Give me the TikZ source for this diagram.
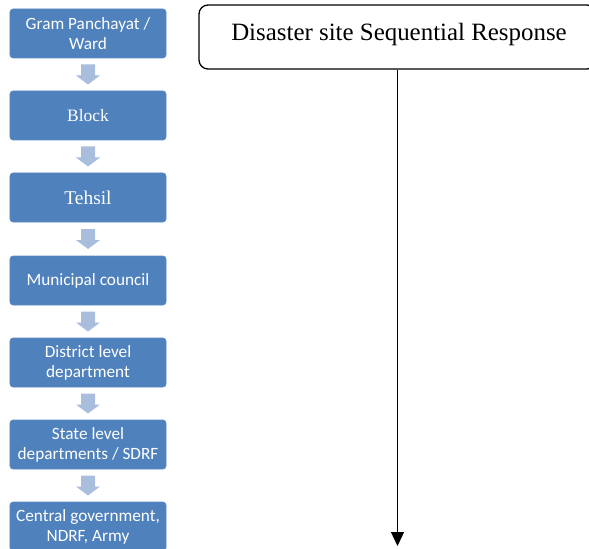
\documentclass[tikz,border=0pt]{standalone}
\usepackage{fontspec}
\setmainfont{Liberation Serif}
\newfontfamily\calibri{Carlito}
\usetikzlibrary{arrows.meta,calc}
\definecolor{boxblue}{HTML}{4F81BD}
\definecolor{boxedge}{HTML}{5B8BC5}
\definecolor{arrowblue}{HTML}{A9BDDC}
\tikzset{
  level/.style={draw=boxedge, line width=0.6bp, fill=boxblue, rounded corners=3bp,
    minimum width=156bp, minimum height=49bp, inner sep=0pt, text=white,
    align=center, font=\calibri\fontsize{17.3}{20}\selectfont},
  serifbox/.style={level, font=\fontsize{17.5}{20}\selectfont},
  serifbig/.style={level, font=\fontsize{19.5}{22}\selectfont},
  headbox/.style={draw=black, line width=1.3bp, rounded corners=9bp,
    minimum width=397bp, minimum height=64bp, inner sep=0pt},
  blockarrow/.style={fill=arrowblue, draw=none},
  mainline/.style={draw=black, line width=1.3bp, -{Triangle[width=13bp,length=14bp]}}
}
\begin{document}
\begin{tikzpicture}[x=1bp,y=-1bp]
\useasboundingbox (0,0) rectangle (589,549);
\clip (0,0) rectangle (589,549);
\node[level] (b1) at (88,33.5) {Gram Panchayat /\\Ward};
\node[serifbox] (b2) at (88,115.5) {Block};
\node[serifbig] (b3) at (88,197.5) {Tehsil};
\node[level] (b4) at (88,280.5) {Municipal council};
\node[level] (b5) at (88,362.5) {District level\\department};
\node[level] (b6) at (88,444.5) {State level\\departments / SDRF};
\node[level] (b7) at (88,526.5) {Central government,\\NDRF, Army};
\foreach \a/\b in {b1/b2,b2/b3,b3/b4,b4/b5,b5/b6,b6/b7}{
  \coordinate (m) at ($(\a.south)!0.5!(\b.north)$);
  \fill[blockarrow] ($(m)+(-7,-10)$) -- ($(m)+(7,-10)$) -- ($(m)+(7,1)$) -- ($(m)+(12,1)$)
    -- ($(m)+(0,10)$) -- ($(m)+(-12,1)$) -- ($(m)+(-7,1)$) -- cycle;
}
\node[headbox] (head) at (397.5,37) {};
\node[font=\fontsize{25}{28}\selectfont, inner sep=0pt] (headtext) at (399,34.5) {Disaster site Sequential Response};
\coordinate (tip) at (397.5,546);
\draw[mainline] (head.south) -- (tip);
\end{tikzpicture}
\end{document}
